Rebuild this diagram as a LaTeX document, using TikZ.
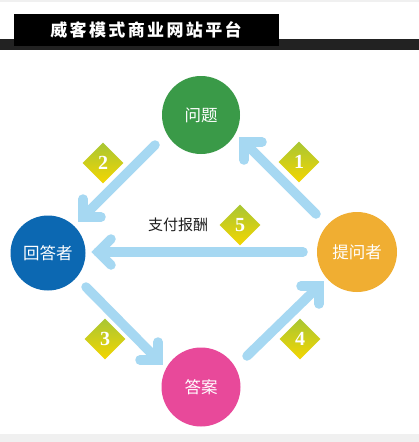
\documentclass[tikz,border=0pt]{standalone}
\usepackage{fontspec}
\usetikzlibrary{shapes.geometric,calc}
\newfontfamily\cjk{Noto Sans CJK SC}
\newfontfamily\cjktitle{Noto Sans CJK SC}[LetterSpace=14]
\newfontfamily\numfont{Liberation Serif}
\definecolor{cgreen}{RGB}{58,154,72}
\definecolor{cblue}{RGB}{12,104,178}
\definecolor{corange}{RGB}{240,174,50}
\definecolor{cpink}{RGB}{232,73,154}
\definecolor{arrowblue}{RGB}{166,216,242}
\definecolor{diatop}{RGB}{168,198,52}
\definecolor{diabot}{RGB}{244,214,0}
\definecolor{bandgray}{RGB}{34,34,34}
\definecolor{stripgray}{RGB}{240,240,240}
\definecolor{labelgray}{RGB}{30,30,30}
\tikzset{
  circ/.style={circle, inner sep=0pt, text=white, font={\cjk\fontsize{16.5}{18}\selectfont}},
  arr/.style={draw=arrowblue, line width=9.5pt, line cap=round, line join=miter},
  dia/.style={diamond, inner sep=0pt, minimum width=41pt, minimum height=41pt,
    top color=diatop, bottom color=diabot, text=white,
    font={\numfont\bfseries\fontsize{20}{21}\selectfont}},
  titletext/.style={text=white, font={\cjktitle\bfseries\fontsize{17}{19}\selectfont}},
}
\begin{document}
\begin{tikzpicture}[x=1pt,y=-1pt]
\useasboundingbox (0,0) rectangle (419,442);
\fill[white] (0,0) rectangle (419,442);
\fill[stripgray] (0,0) rectangle (419,2);
\fill[stripgray] (0,434) rectangle (419,442);
\fill[bandgray] (0,39) rectangle (419,50);
\fill[black] (14,14) rectangle (279,46);
\node[titletext] (title) at (146,30) {威客模式商业网站平台};

% circles
\node[circ, fill=cgreen, minimum size=78pt] (prob) at (201,115) {问题};
\node[circ, fill=cblue, minimum size=75pt] (ans) at (48,253) {回答者};
\node[circ, fill=corange, minimum size=80pt] (ask) at (357,252) {提问者};
\node[circ, fill=cpink, minimum size=79pt] (sol) at (201,387) {答案};

% arrow end points
\coordinate (s1) at ([shift={(-41,-38)}]ask.center);
\coordinate (t1) at ([shift={(43,27)}]prob.center);
\coordinate (s2) at ([shift={(-46,30)}]prob.center);
\coordinate (t2) at ([shift={(35,-36)}]ans.center);
\coordinate (s3) at ([shift={(38,34)}]ans.center);
\coordinate (t3) at ([shift={(-43,-27)}]sol.center);
\coordinate (s4) at ([shift={(46,-31)}]sol.center);
\coordinate (t4) at ([shift={(-38,34)}]ask.center);
\coordinate (s5) at ([shift={(-54,0)}]ask.center);
\coordinate (t5) at ([shift={(50,-1)}]ans.center);

% arrows
\draw[arr] (s1) -- (t1);
\draw[arr] ($(t1)+(18,0)$) -- (t1) -- ($(t1)+(0,18)$);
\draw[arr] (s2) -- (t2);
\draw[arr] ($(t2)+(0,-18)$) -- (t2) -- ($(t2)+(18,0)$);
\draw[arr] (s3) -- (t3);
\draw[arr] ($(t3)+(0,-18)$) -- (t3) -- ($(t3)+(-18,0)$);
\draw[arr] (s4) -- (t4);
\draw[arr] ($(t4)+(-18,0)$) -- (t4) -- ($(t4)+(0,18)$);
\draw[arr] (s5) -- (t5);
\draw[arr] ($(t5)+(13,-13)$) -- (t5) -- ($(t5)+(13,13)$);

% diamonds
\node[dia] (d1) at (299,162) {1};
\node[dia] (d2) at (103,163) {2};
\node[dia] (d3) at (105,339) {3};
\node[dia] (d4) at (300,339) {4};
\node[dia] (d5) at (240,225) {5};

\node[text=labelgray, font={\cjk\fontsize{15}{17}\selectfont}] (pay) at (178,225) {支付报酬};
\end{tikzpicture}
\end{document}
